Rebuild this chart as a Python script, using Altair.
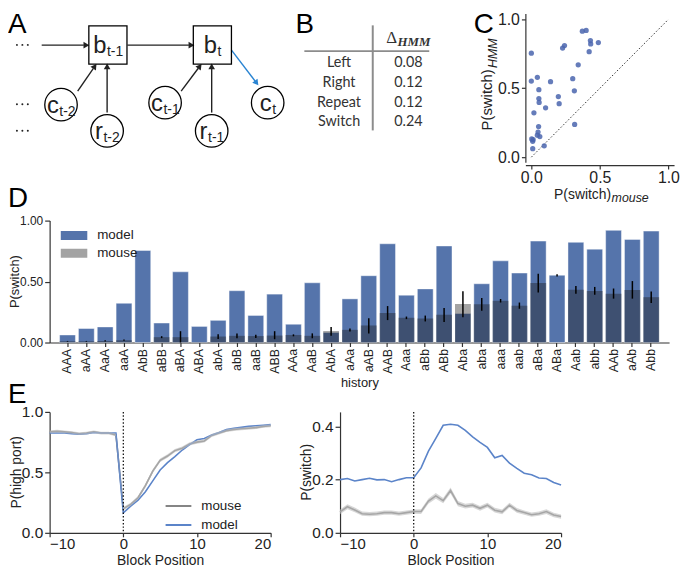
import math
import altair as alt
import pandas as pd

FONT = "Liberation Sans"
INK = "#222222"

# ---------------- Panel D / C : P(switch) per history ----------------
histories = ["AAA", "aAA", "AaA", "aaA", "AbB", "aBB", "aBA", "ABA", "abA", "abB", "aaB",
             "ABB", "AAa", "AaB", "AbA", "aAa", "aAB", "AAB", "Aaa", "aBb", "ABb", "Aba",
             "aba", "aaa", "aab", "aBa", "ABa", "Aab", "abb", "AAb", "aAb", "Abb"]
p_model = [0.062, 0.115, 0.128, 0.322, 0.755, 0.160, 0.580, 0.132, 0.182, 0.425, 0.222,
           0.397, 0.150, 0.490, 0.082, 0.358, 0.548, 0.810, 0.388, 0.440, 0.792, 0.238,
           0.482, 0.670, 0.570, 0.832, 0.552, 0.822, 0.766, 0.920, 0.846, 0.914]
p_mouse = [0.010, 0.010, 0.013, 0.019, 0.000, 0.044, 0.044, 0.003, 0.049, 0.055, 0.053,
           0.057, 0.062, 0.055, 0.094, 0.104, 0.140, 0.242, 0.203, 0.197, 0.228, 0.316,
           0.314, 0.342, 0.302, 0.489, 0.000, 0.433, 0.422, 0.400, 0.431, 0.372]
err_lo = [0.007, 0.007, 0.008, 0.014, None, 0.036, 0.000, None, 0.029, 0.035, 0.037,
          0.027, 0.051, 0.035, 0.056, 0.091, 0.075, 0.184, 0.192, 0.173, 0.168, 0.208,
          0.261, 0.328, 0.277, 0.411, 0.541, 0.400, 0.392, 0.360, 0.360, 0.325]
err_hi = [0.013, 0.013, 0.018, 0.024, None, 0.052, 0.093, None, 0.067, 0.075, 0.064,
          0.093, 0.067, 0.075, 0.128, 0.115, 0.200, 0.299, 0.213, 0.221, 0.283, 0.421,
          0.365, 0.357, 0.328, 0.565, 0.560, 0.464, 0.456, 0.443, 0.504, 0.419]

# ---------------- Panel B : table ----------------
hmm_rows = ["Left", "Right", "Repeat", "Switch"]
hmm_delta = [0.08, 0.12, 0.12, 0.24]

# ---------------- Panel E : block transitions ----------------
block_pos = list(range(-10, 21))
high_mouse = [0.835, 0.840, 0.835, 0.830, 0.820, 0.825, 0.835, 0.825, 0.825, 0.810,
              0.200, 0.235, 0.290, 0.390, 0.510, 0.600, 0.635, 0.680, 0.700, 0.735,
              0.750, 0.760, 0.805, 0.825, 0.845, 0.855, 0.860, 0.865, 0.870, 0.880, 0.885]
high_mouse_sem = [0.012, 0.012, 0.011, 0.011, 0.011, 0.011, 0.012, 0.011, 0.011, 0.012,
                  0.014, 0.014, 0.015, 0.015, 0.015, 0.015, 0.014, 0.014, 0.013, 0.013,
                  0.013, 0.013, 0.012, 0.012, 0.012, 0.012, 0.012, 0.012, 0.012, 0.012, 0.012]
high_model = [0.825, 0.825, 0.825, 0.820, 0.815, 0.820, 0.830, 0.825, 0.825, 0.825,
              0.165, 0.220, 0.270, 0.340, 0.430, 0.520, 0.580, 0.630, 0.685, 0.730,
              0.770, 0.780, 0.810, 0.830, 0.855, 0.865, 0.872, 0.880, 0.885, 0.890, 0.895]
sw_mouse = [0.079, 0.098, 0.086, 0.072, 0.070, 0.072, 0.076, 0.076, 0.072, 0.076,
            0.080, 0.080, 0.119, 0.139, 0.121, 0.159, 0.110, 0.100, 0.104, 0.092,
            0.104, 0.085, 0.079, 0.104, 0.084, 0.076, 0.068, 0.072, 0.080, 0.067, 0.061]
sw_mouse_sem = [0.009, 0.009, 0.009, 0.008, 0.008, 0.008, 0.008, 0.008, 0.008, 0.008,
                0.008, 0.009, 0.010, 0.011, 0.010, 0.011, 0.010, 0.009, 0.009, 0.009,
                0.009, 0.009, 0.009, 0.009, 0.009, 0.008, 0.008, 0.008, 0.009, 0.008, 0.008]
sw_model = [0.200, 0.204, 0.195, 0.200, 0.205, 0.199, 0.200, 0.192, 0.200, 0.207,
            0.207, 0.244, 0.307, 0.355, 0.404, 0.408, 0.404, 0.385, 0.361, 0.340,
            0.321, 0.282, 0.291, 0.262, 0.242, 0.224, 0.218, 0.206, 0.204, 0.189, 0.180]

# ---------------- Panel A : schematic (schematic units) ----------------
nodes = [("b", "t-1", "box", 108.8, 41.8), ("b", "t", "box", 214.2, 41.8),
         ("c", "t-2", "circle", 61.5, 102.0), ("r", "t-2", "circle", 108.0, 128.5),
         ("c", "t-1", "circle", 166.5, 100.0), ("r", "t-1", "circle", 213.5, 128.5),
         ("c", "t", "circle", 270.0, 100.0)]
edges = [(42, 42, 89, 42, "#222222"), (128.5, 42, 195, 42, "#222222"),
         (78.3, 88.3, 96.7, 61.7, "#222222"), (108, 110, 108, 61.5, "#222222"),
         (182.7, 88.3, 202.7, 61.7, "#222222"), (213.5, 110, 213.5, 61.5, "#222222"),
         (233.3, 46.7, 260, 81.7, "#2a84d2")]
ellipsis_rows = [41.7, 101.7, 128.3]
ellipsis_cols = [17.0, 22.5, 28.0]

BLUE_BAR = "#5574ab"
BLUE_LINE = "#5b84c9"
GRAY_LINE = "#858585"

# horizontal offsets (px) of sub-panels inside the shared rows
B_OFF = 240
C_OFF = 480
E2_OFF = 293
D_H = 123
E_H = 122


def letter(ch, x, y):
    return alt.Chart(pd.DataFrame({"t": [ch]})).mark_text(
        font=FONT, fontSize=28, align="left", baseline="top", color="black"
    ).encode(x=alt.value(x), y=alt.value(y), text="t:N")


def label(txt, x, y, size, angle=0, align="center", baseline="middle", style="normal",
          weight="normal", font=FONT, color=INK):
    return alt.Chart(pd.DataFrame({"t": [txt]})).mark_text(
        font=font, fontSize=size, angle=angle, align=align, baseline=baseline,
        fontStyle=style, fontWeight=weight, color=color
    ).encode(x=alt.value(x), y=alt.value(y), text="t:N")


def spacer(w, h):
    return alt.Chart(pd.DataFrame({"z": [0]})).mark_point(opacity=0, size=1).encode(
        x=alt.value(0), y=alt.value(0)).properties(width=w, height=h)


# ---------- A ----------
EM = {"b": 0.556, "c": 0.5, "r": 0.333, "t": 0.278, "-": 0.333, "1": 0.556, "2": 0.556}
node_rows, main_rows, sub_rows = [], [], []
for main, sub, shape, cx, cy in nodes:
    wm = EM[main] * 24
    ws = sum(EM[c] for c in sub) * 14
    right = cx - (wm + ws) / 2 + wm
    node_rows.append(dict(ax=cx, ay=cy, shape=shape))
    main_rows.append(dict(ax=right, ay=cy + 8.5, t=main))
    sub_rows.append(dict(ax=right + 0.5, ay=cy + 11.5, t=sub))
rule_rows, head_rows = [], []
for x1, y1, x2, y2, col in edges:
    L = math.hypot(x2 - x1, y2 - y1)
    ux, uy = (x2 - x1) / L, (y2 - y1) / L
    h = 2.9
    rule_rows.append(dict(ax=x1, ay=y1, ax2=x2 - ux * 4.5, ay2=y2 - uy * 4.5, c=col))
    head_rows.append(dict(ax=x2 - ux * h, ay=y2 - uy * h,
                          a=math.degrees(math.atan2(ux, -uy)) % 360, c=col))
dot_rows = [dict(ax=x, ay=y) for y in ellipsis_rows for x in ellipsis_cols]
ax_ = alt.Scale(domain=[50, 290], range=[0, 240], nice=False, zero=False)
ay_ = alt.Scale(domain=[10, 160], nice=False, zero=False, reverse=True)
AX = lambda f: alt.X(f, type="quantitative", scale=ax_, axis=None)
AY = lambda f: alt.Y(f, type="quantitative", scale=ay_, axis=None)
nd = pd.DataFrame(node_rows)
a_boxes = alt.Chart(nd).transform_filter("datum.shape == 'box'").mark_point(
    shape="square", size=1480, filled=False, color="black", strokeWidth=1.3, opacity=1
).encode(x=AX("ax"), y=AY("ay"))
a_circ = alt.Chart(nd).transform_filter("datum.shape == 'circle'").mark_point(
    shape="circle", size=1075, filled=False, color="black", strokeWidth=1.3, opacity=1
).encode(x=AX("ax"), y=AY("ay"))
a_rules = alt.Chart(pd.DataFrame(rule_rows)).mark_rule(strokeWidth=1.4).encode(
    x=AX("ax"), y=AY("ay"), x2="ax2:Q", y2="ay2:Q", color=alt.Color("c:N", scale=None))
a_heads = alt.Chart(pd.DataFrame(head_rows)).mark_point(
    shape="triangle", size=45, filled=True, opacity=1
).encode(x=AX("ax"), y=AY("ay"), angle=alt.Angle("a:Q", scale=None),
         color=alt.Color("c:N", scale=None))
a_main = alt.Chart(pd.DataFrame(main_rows)).mark_text(
    font=FONT, fontSize=24, align="right", baseline="alphabetic", color=INK
).encode(x=AX("ax"), y=AY("ay"), text="t:N")
a_sub = alt.Chart(pd.DataFrame(sub_rows)).mark_text(
    font=FONT, fontSize=14, align="left", baseline="alphabetic", color=INK
).encode(x=AX("ax"), y=AY("ay"), text="t:N")
a_dots = alt.Chart(pd.DataFrame(dot_rows)).mark_circle(size=4, color=INK, opacity=1).encode(
    x=AX("ax"), y=AY("ay"))
layerA = alt.layer(a_rules, a_heads, a_boxes, a_circ, a_main, a_sub, a_dots, letter("A", -42, -2))

# ---------- B ----------
bdf = pd.DataFrame({"row": hmm_rows, "delta": hmm_delta})
by = alt.Y("row:N", scale=alt.Scale(type="point", domain=hmm_rows, range=[50, 110], padding=0), axis=None)
one = pd.DataFrame({"z": [0]})
b_h = alt.Chart(one).mark_rule(color="#8c8c8c", strokeWidth=2).encode(
    x=alt.value(B_OFF + 17), x2=alt.value(B_OFF + 143), y=alt.value(38))
b_v = alt.Chart(one).mark_rule(color="#8c8c8c", strokeWidth=2).encode(
    x=alt.value(B_OFF + 86), y=alt.value(12), y2=alt.value(118))
b_lab = alt.Chart(bdf).mark_text(font="Lato", fontSize=14.5, color="#333333", baseline="middle").encode(
    x=alt.value(B_OFF + 52), y=by, text="row:N")
b_val = alt.Chart(bdf).mark_text(font="Lato", fontSize=14.5, color="#333333", baseline="middle").encode(
    x=alt.value(B_OFF + 122), y=by, text=alt.Text("delta:Q", format=".2f"))
layerB = alt.layer(
    b_h, b_v, b_lab, b_val,
    label("Δ", B_OFF + 105, 30, 17, baseline="alphabetic", font="Liberation Serif", color="#333333"),
    label("HMM", B_OFF + 111, 33, 13, align="left", baseline="alphabetic", style="italic",
          weight="bold", font="Liberation Serif", color="#333333"),
    letter("B", B_OFF + 8, -2))

# ---------- C ----------
sc = pd.DataFrame({"history": histories, "mouse": p_mouse, "model": p_model})
cxs = alt.Scale(domain=[-0.0434, 1.0412], range=[C_OFF, C_OFF + 150], nice=False, zero=False)
cys = alt.Scale(domain=[-0.036, 1.043], nice=False, zero=False)
cX = alt.X("mouse:Q", scale=cxs, axis=alt.Axis(values=[0, 0.5, 1], format=".1f", title=None, offset=3,
                                               orient="bottom", labelFontSize=16, tickSize=4,
                                               labelPadding=1, labelOverlap=False))
cY = alt.Y("model:Q", scale=cys, axis=alt.Axis(values=[0, 0.5, 1], format=".1f", title=None,
                                               orient="left", offset=-C_OFF, labelOverlap=False,
                                               labelFontSize=16, tickSize=4, labelPadding=2))
c_diag = alt.Chart(pd.DataFrame({"mouse": [0, 1], "model": [0, 1]})).mark_line(
    color="#333333", strokeDash=[1.5, 2], strokeWidth=1).encode(x=cX, y=cY)
c_pts = alt.Chart(sc).mark_circle(size=28, color="#4a65ae", opacity=0.85).encode(x=cX, y=cY)
layerC = alt.layer(
    c_diag, c_pts,
    label("P(switch)", C_OFF - 34, 118, 15, angle=270, align="left", baseline="alphabetic"),
    label("HMM", C_OFF - 29, 55, 12.5, angle=270, align="left", baseline="alphabetic", style="italic"),
    label("P(switch)", C_OFF + 29, 187, 14, align="left", baseline="alphabetic"),
    label("mouse", C_OFF + 87, 190, 12.5, align="left", baseline="alphabetic", style="italic"),
    letter("C", C_OFF - 52, -2))

row1 = alt.layer(layerA, layerB, layerC).resolve_scale(
    x="independent", y="independent").properties(width=630, height=150)

# ---------- D ----------
ddf = pd.DataFrame({"history": histories, "model": p_model, "mouse": p_mouse,
                    "lo": err_lo, "hi": err_hi, "series": ["model"] * len(histories)})
dX = alt.X("history:N", sort=histories,
           scale=alt.Scale(paddingInner=0.16, paddingOuter=0.53),
           axis=alt.Axis(labelAngle=270, labelFontSize=12.5, tickSize=4, labelPadding=2,
                         title="history", titleFontSize=13, titlePadding=3))
dYs = alt.Scale(domain=[0, 1], nice=False)
dYax = alt.Axis(values=[0, 0.25, 0.5, 0.75, 1], format=".2f", title=None, labelFontSize=12,
                tickSize=5, labelPadding=2, labelOverlap=False)
d_model = alt.Chart(ddf).mark_bar(stroke="#ffffff", strokeWidth=0.8, strokeOpacity=0.55).encode(
    x=dX, y=alt.Y("model:Q", scale=dYs, axis=dYax),
    color=alt.Color("series:N", scale=alt.Scale(domain=["model", "mouse"], range=[BLUE_BAR, "#a3a3a3"]),
                    legend=alt.Legend(orient="none", legendX=11, legendY=8, title=None,
                                      symbolType="M-1,-0.333H1V0.333H-1Z", symbolSize=729,
                                      symbolStrokeWidth=0, clipHeight=14, rowPadding=4,
                                      labelFontSize=13.5, labelOffset=10, labelFont=FONT,
                                      labelColor=INK, padding=0)))
d_mouse = alt.Chart(ddf).mark_bar(color="#1c1c1c", opacity=0.4).encode(x=dX, y=alt.Y("mouse:Q"))
d_err = alt.Chart(ddf).mark_rule(color="black", strokeWidth=1.5).encode(
    x=dX, y=alt.Y("lo:Q"), y2="hi:Q")
panelD = alt.layer(d_model, d_mouse, d_err,
                   label("P(switch)", -35, D_H / 2, 13, angle=270),
                   letter("D", -42, -36)).properties(width=625, height=D_H)


# ---------- E ----------
def e_layer(mouse, sem, model, ydom, yvals, ytitle, off, with_legend):
    n = len(block_pos)
    long = pd.DataFrame({"pos": block_pos * 2, "series": ["mouse"] * n + ["model"] * n,
                         "p": mouse + model})
    band = pd.DataFrame({"pos": block_pos, "lo": [m - s for m, s in zip(mouse, sem)],
                         "hi": [m + s for m, s in zip(mouse, sem)]})
    ex = alt.X("pos:Q", scale=alt.Scale(domain=[-10, 20], range=[off, off + 223], nice=False),
               axis=alt.Axis(values=[-10, 0, 10, 20], title="Block Position", labelFontSize=15,
                             orient="bottom", titleFontSize=14, tickSize=4, labelPadding=0,
                             titlePadding=1.5, labelOverlap=False))
    ey = alt.Y("p:Q", scale=alt.Scale(domain=ydom, nice=False),
               axis=alt.Axis(values=yvals, format=".1f", title=None, labelFontSize=15.5,
                             orient="left", offset=-off, tickSize=5, labelPadding=2,
                             labelOverlap=False))
    area = alt.Chart(band).mark_area(color="#bdbdbd", opacity=0.6).encode(
        x=alt.X("pos:Q"), y=alt.Y("lo:Q"), y2="hi:Q")
    if with_legend:
        col = alt.Color("series:N", scale=alt.Scale(domain=["mouse", "model"], range=[GRAY_LINE, BLUE_LINE]),
                        legend=alt.Legend(orient="none", legendX=116, legendY=88, title=None,
                                          labelFontSize=13.5, labelOffset=9, symbolSize=676,
                                          symbolStrokeWidth=2, symbolType="stroke", clipHeight=14,
                                          rowPadding=5, padding=0, labelFont=FONT, labelColor=INK))
        lines = [alt.Chart(long).mark_line(strokeWidth=1.6).encode(x=ex, y=ey, color=col)]
    else:
        lines = [alt.Chart(long).transform_filter("datum.series == 'mouse'").mark_line(
                     strokeWidth=1.6, color=GRAY_LINE).encode(x=ex, y=ey),
                 alt.Chart(long).transform_filter("datum.series == 'model'").mark_line(
                     strokeWidth=1.6, color=BLUE_LINE).encode(x=ex, y=ey)]
    rule = alt.Chart(pd.DataFrame({"pos": [0]})).mark_rule(
        color="black", strokeDash=[1.5, 2], strokeWidth=1.2).encode(x="pos:Q")
    return alt.layer(*lines, area, rule, label(ytitle, off - 33, E_H / 2, 14, angle=270))


layerE1 = e_layer(high_mouse, high_mouse_sem, high_model, [0, 1], [0, 0.5, 1],
                  "P(high port)", 0, True)
layerE2 = e_layer(sw_mouse, sw_mouse_sem, sw_model, [0, 0.4545], [0, 0.1, 0.2, 0.3, 0.4],
                  "P(switch)", E2_OFF, False)
row3 = alt.layer(layerE1, layerE2, letter("E", -42, -31)).resolve_scale(
    x="independent", y="independent").properties(width=516, height=E_H)

chart = alt.vconcat(
    row1, spacer(1, 59), panelD, spacer(1, 70), row3,
    spacing=0, bounds="flush",
).resolve_scale(color="independent").resolve_legend(color="independent").properties(
    padding=0
).configure(font=FONT).configure_view(stroke=None).configure_axis(
    grid=False, domainColor="#333333", tickColor="#333333", labelColor=INK, titleColor=INK,
    titleFontWeight="normal", labelFont=FONT, titleFont=FONT, domainWidth=1.2, tickWidth=1.2
)

chart.save("out.html", embed_options={"renderer": "svg", "actions": False})
